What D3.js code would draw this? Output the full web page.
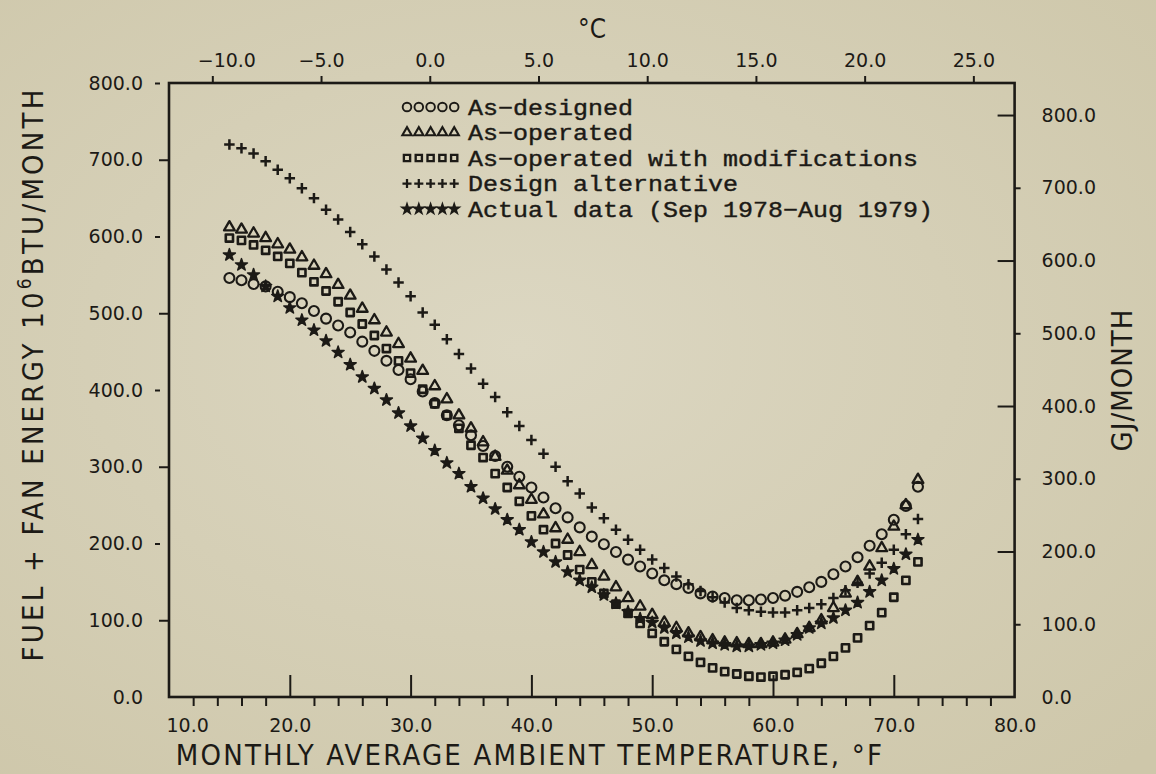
<!DOCTYPE html>
<html>
<head>
<meta charset="utf-8">
<script src="https://cdn.jsdelivr.net/npm/d3@7"></script>
<style>
  html, body { margin: 0; padding: 0; background: #d5cfb6; }
  svg { display: block; }
</style>
</head>
<body>
<svg id="chart"></svg>
<script>
// monthly average ambient temp (deg F) for every plotted point
const TEMPS_F = [15, 16, 17, 18, 19, 20, 21, 22, 23, 24, 25, 26, 27, 28, 29, 30, 31, 32, 33, 34,
  35, 36, 37, 38, 39, 40, 41, 42, 43, 44, 45, 46, 47, 48, 49, 50, 51, 52, 53, 54,
  55, 56, 57, 58, 59, 60, 61, 62, 63, 64, 65, 66, 67, 68, 69, 70, 71, 72];

// fuel + fan energy, 10^6 BTU / month
const AS_DESIGNED = [546, 543, 538, 535, 528, 521, 513, 503, 493, 484, 475, 463, 451, 438, 426, 414, 398, 383, 367, 354,
  341, 327, 314, 300, 287, 273, 260, 246, 234, 221, 209, 199, 189, 179, 170, 161, 152, 147, 142, 135,
  131, 129, 126, 126, 127, 129, 132, 137, 143, 150, 160, 170, 182, 197, 212, 231, 249, 274];
const AS_OPERATED = [612, 609, 604, 598, 590, 583, 573, 562, 551, 537, 523, 506, 491, 475, 460, 441, 425, 405, 388, 367,
  350, 332, 313, 295, 276, 257, 238, 220, 205, 189, 172, 157, 143, 129, 118, 107, 97, 90, 83, 78,
  74, 71, 70, 69, 69, 71, 75, 82, 90, 100, 116, 135, 150, 170, 194, 222, 250, 283];
const AS_MODIFIED = [598, 595, 589, 582, 574, 565, 553, 541, 529, 515, 501, 486, 471, 454, 438, 422, 401, 382, 367, 350,
  328, 312, 291, 273, 255, 236, 218, 200, 185, 166, 150, 135, 121, 109, 96, 83, 72, 62, 53, 45,
  38, 33, 30, 27, 26, 27, 29, 32, 37, 44, 53, 64, 77, 93, 110, 130, 152, 176];
const DESIGN_ALT = [720, 715, 708, 698, 687, 676, 663, 650, 635, 622, 606, 590, 574, 557, 540, 522, 501, 485, 466, 447,
  428, 408, 391, 371, 353, 335, 317, 300, 281, 265, 247, 233, 218, 205, 192, 179, 168, 157, 147, 138,
  130, 123, 116, 113, 111, 110, 110, 113, 116, 121, 129, 139, 149, 161, 175, 192, 212, 232];
const ACTUAL = [576, 563, 550, 535, 522, 507, 491, 478, 464, 449, 433, 417, 402, 387, 370, 353, 337, 321, 305, 291,
  274, 259, 245, 231, 218, 202, 189, 176, 163, 152, 143, 133, 122, 111, 102, 97, 90, 83, 78, 73,
  70, 68, 66, 66, 68, 70, 74, 81, 90, 96, 103, 113, 123, 137, 152, 167, 186, 205];

const LEGEND_LABELS = ['As\u2212designed', 'As\u2212operated', 'As\u2212operated with modifications',
  'Design alternative', 'Actual data (Sep 1978\u2212Aug 1979)'];

// tick labels
const F_TICKS = [10, 20, 30, 40, 50, 60, 70, 80];
const F_MINOR = [12, 14, 16, 18, 22, 24, 26, 28, 32, 34, 36, 38, 42, 44, 46, 48, 52, 54, 56, 58, 62, 64, 66, 68, 72, 74, 76, 78];
const F_INNER = [20, 30, 40, 50, 60, 70];
const C_TICKS = [-10, -5, 0, 5, 10, 15, 20, 25];
const BTU_TICKS = [0, 100, 200, 300, 400, 500, 600, 700, 800];
const GJ_TICKS = [0, 100, 200, 300, 400, 500, 600, 700, 800];

const WIDTH = 1156;
const HEIGHT = 774;
const INK = '#1c1a16';
const NUM_FONT = 'DejaVu Sans, Verdana, sans-serif';
const TITLE_FONT = '"DejaVu Sans Condensed", "Liberation Sans Narrow", "DejaVu Sans", sans-serif';
const LEGEND_FONT = '"Liberation Mono", "Courier New", monospace';
const GJ_PER_MBTU = 1.05506;

const x = d3.scaleLinear().domain([10, 80]).range([169, 1014.6]);
const y = d3.scaleLinear().domain([0, 800]).range([697, 83]);
const yGJ = d3.scaleLinear().domain([0, 800]).range([y(0), y(800 / GJ_PER_MBTU)]);
// top celsius axis sits a few px left of the exact conversion in the scan
const xC = d3.scaleLinear().domain([-10, 25]).range([x(14) - 5, x(77) - 5]);

// plus marker drawn as two strokes (d3.symbolCross is a filled blob)
const plusSymbol = {
  draw(ctx, size) {
    const r = Math.sqrt(size) / 2;
    ctx.moveTo(-r, 0); ctx.lineTo(r, 0);
    ctx.moveTo(0, -r); ctx.lineTo(0, r);
  }
};

const SERIES = [
  { values: AS_DESIGNED, type: d3.symbolCircle, size: 78, fill: 'none', sw: 2.1 },
  { values: AS_OPERATED, type: d3.symbolTriangle, size: 50, fill: 'none', sw: 2.3 },
  { values: AS_MODIFIED, type: d3.symbolSquare, size: 52, fill: 'none', sw: 2.6 },
  { values: DESIGN_ALT, type: plusSymbol, size: 110, fill: 'none', sw: 2.5 },
  { values: ACTUAL, type: d3.symbolStar, size: 44, fill: INK, sw: 1.6 },
];

const svg = d3.select('#chart').attr('width', WIDTH).attr('height', HEIGHT);

// paper background, slightly lighter in the middle like the scan
const defs = svg.append('defs');
const grad = defs.append('radialGradient').attr('id', 'paper').attr('cx', '45%').attr('cy', '45%').attr('r', '75%');
grad.append('stop').attr('offset', '0%').attr('stop-color', '#dcd7c2');
grad.append('stop').attr('offset', '100%').attr('stop-color', '#cec7aa');
svg.append('rect').attr('width', WIDTH).attr('height', HEIGHT).attr('fill', 'url(#paper)');

function styleAxis(g) {
  g.select('.domain').remove();
  g.attr('color', INK).attr('font-family', NUM_FONT).attr('font-size', 19);
  g.selectAll('line').attr('stroke-width', 2);
  g.selectAll('text').attr('fill', INK);
}

// bottom axis: short ticks below every 2 F, long ticks inside at the decades
svg.append('g')
  .attr('transform', `translate(0,${y(0)})`)
  .call(d3.axisBottom(x).tickValues(F_MINOR).tickSize(9).tickFormat(''))
  .call(styleAxis);
svg.append('g')
  .attr('transform', `translate(0,${y(0)})`)
  .call(d3.axisTop(x).tickValues(F_INNER).tickSize(22).tickFormat(''))
  .call(styleAxis);
const bottomLabels = svg.append('g')
  .attr('transform', `translate(0,${y(0)})`)
  .call(d3.axisBottom(x).tickValues(F_TICKS).tickSize(0).tickPadding(22).tickFormat(d3.format('.1f')))
  .call(styleAxis);
bottomLabels.selectAll('.tick text').filter(d => d === 10).attr('text-anchor', 'start').attr('x', -3);

// top celsius axis
const topAxis = svg.append('g')
  .attr('transform', `translate(0,${y(800)})`)
  .call(d3.axisTop(xC).tickValues(C_TICKS).tickSize(7).tickPadding(9).tickFormat(d3.format('.1f')))
  .call(styleAxis);
topAxis.selectAll('.tick text').filter(d => d === -10).attr('x', 14);

// left axis, 10^6 BTU
svg.append('g')
  .attr('transform', `translate(${x(10)},0)`)
  .call(d3.axisLeft(y).tickValues([100, 300, 500, 700]).tickSize(10).tickFormat(''))
  .call(styleAxis);
svg.append('g')
  .attr('transform', `translate(${x(10) - 9},0)`)
  .call(d3.axisLeft(y).tickValues([200, 400, 600, 800]).tickSize(5).tickFormat(''))
  .call(styleAxis);
svg.append('g')
  .attr('transform', `translate(${x(10)},0)`)
  .call(d3.axisLeft(y).tickValues(BTU_TICKS).tickSize(0).tickPadding(26).tickFormat(d3.format('.1f')))
  .call(styleAxis);

// right axis, GJ: long inward ticks on even hundreds, short outward on odd
svg.append('g')
  .attr('transform', `translate(${x(80)},0)`)
  .call(d3.axisLeft(yGJ).tickValues([200, 400, 600, 800]).tickSize(17).tickFormat(''))
  .call(styleAxis);
svg.append('g')
  .attr('transform', `translate(${x(80)},0)`)
  .call(d3.axisRight(yGJ).tickValues([100, 300, 500, 700]).tickSize(6).tickFormat(''))
  .call(styleAxis);
svg.append('g')
  .attr('transform', `translate(${x(80)},0)`)
  .call(d3.axisRight(yGJ).tickValues(GJ_TICKS).tickSize(0).tickPadding(27).tickFormat(d3.format('.1f')))
  .call(styleAxis);

// frame
svg.append('rect')
  .attr('x', x(10)).attr('y', y(800))
  .attr('width', x(80) - x(10)).attr('height', y(0) - y(800))
  .attr('fill', 'none').attr('stroke', INK).attr('stroke-width', 2.6);

// axis titles (condensed face, spaced out like the original lettering)
const leftTitle = svg.append('text')
  .attr('transform', 'translate(43,374) rotate(-90)')
  .attr('text-anchor', 'middle')
  .attr('font-family', TITLE_FONT).attr('font-stretch', 'condensed')
  .attr('font-size', 29).attr('letter-spacing', 3.2).attr('fill', INK);
leftTitle.append('tspan').text('FUEL + FAN ENERGY 10');
leftTitle.append('tspan').attr('font-size', 19).attr('dy', -12).text('6');
leftTitle.append('tspan').attr('dy', 12).text('BTU/MONTH');

svg.append('text')
  .attr('transform', 'translate(1132,380) rotate(-90)')
  .attr('text-anchor', 'middle')
  .attr('font-family', TITLE_FONT).attr('font-stretch', 'condensed')
  .attr('font-size', 29).attr('letter-spacing', 1).attr('fill', INK)
  .text('GJ/MONTH');

svg.append('text')
  .attr('x', 530).attr('y', 765)
  .attr('text-anchor', 'middle')
  .attr('font-family', TITLE_FONT).attr('font-stretch', 'condensed')
  .attr('font-size', 29).attr('letter-spacing', 2.2).attr('fill', INK)
  .text('MONTHLY AVERAGE AMBIENT TEMPERATURE, \u00b0F');

svg.append('text')
  .attr('x', 592).attr('y', 38)
  .attr('text-anchor', 'middle')
  .attr('font-family', TITLE_FONT).attr('font-stretch', 'condensed')
  .attr('font-size', 26).attr('fill', INK)
  .text('\u00b0C');

// data markers
const plot = svg.append('g');
SERIES.forEach((s) => {
  plot.append('g')
    .selectAll('path')
    .data(s.values)
    .enter()
    .append('path')
    .attr('d', d3.symbol().type(s.type).size(s.size))
    .attr('transform', (v, j) => `translate(${x(TEMPS_F[j])},${y(v)})`)
    .attr('fill', s.fill)
    .attr('stroke', INK)
    .attr('stroke-width', s.sw)
    .attr('stroke-linejoin', 'round');
});

// legend: five sample markers then the label (typewriter face, 15px per character)
const legend = svg.append('g');
SERIES.forEach((s, i) => {
  const row = legend.append('g').attr('transform', `translate(0,${107 + i * 25.5})`);
  row.selectAll('path')
    .data(d3.range(5))
    .enter()
    .append('path')
    .attr('d', d3.symbol().type(s.type).size(s.size * 0.75))
    .attr('transform', k => `translate(${407 + k * 11.8},0)`)
    .attr('fill', s.fill)
    .attr('stroke', INK)
    .attr('stroke-width', s.sw * 0.9);
  row.append('text')
    .attr('x', 468).attr('dy', '0.35em')
    .attr('font-family', LEGEND_FONT).attr('font-size', 22)
    .attr('textLength', LEGEND_LABELS[i].length * 15).attr('lengthAdjust', 'spacingAndGlyphs')
    .attr('fill', INK).attr('stroke', INK).attr('stroke-width', 0.4)
    .text(LEGEND_LABELS[i]);
});
</script>
</body>
</html>
